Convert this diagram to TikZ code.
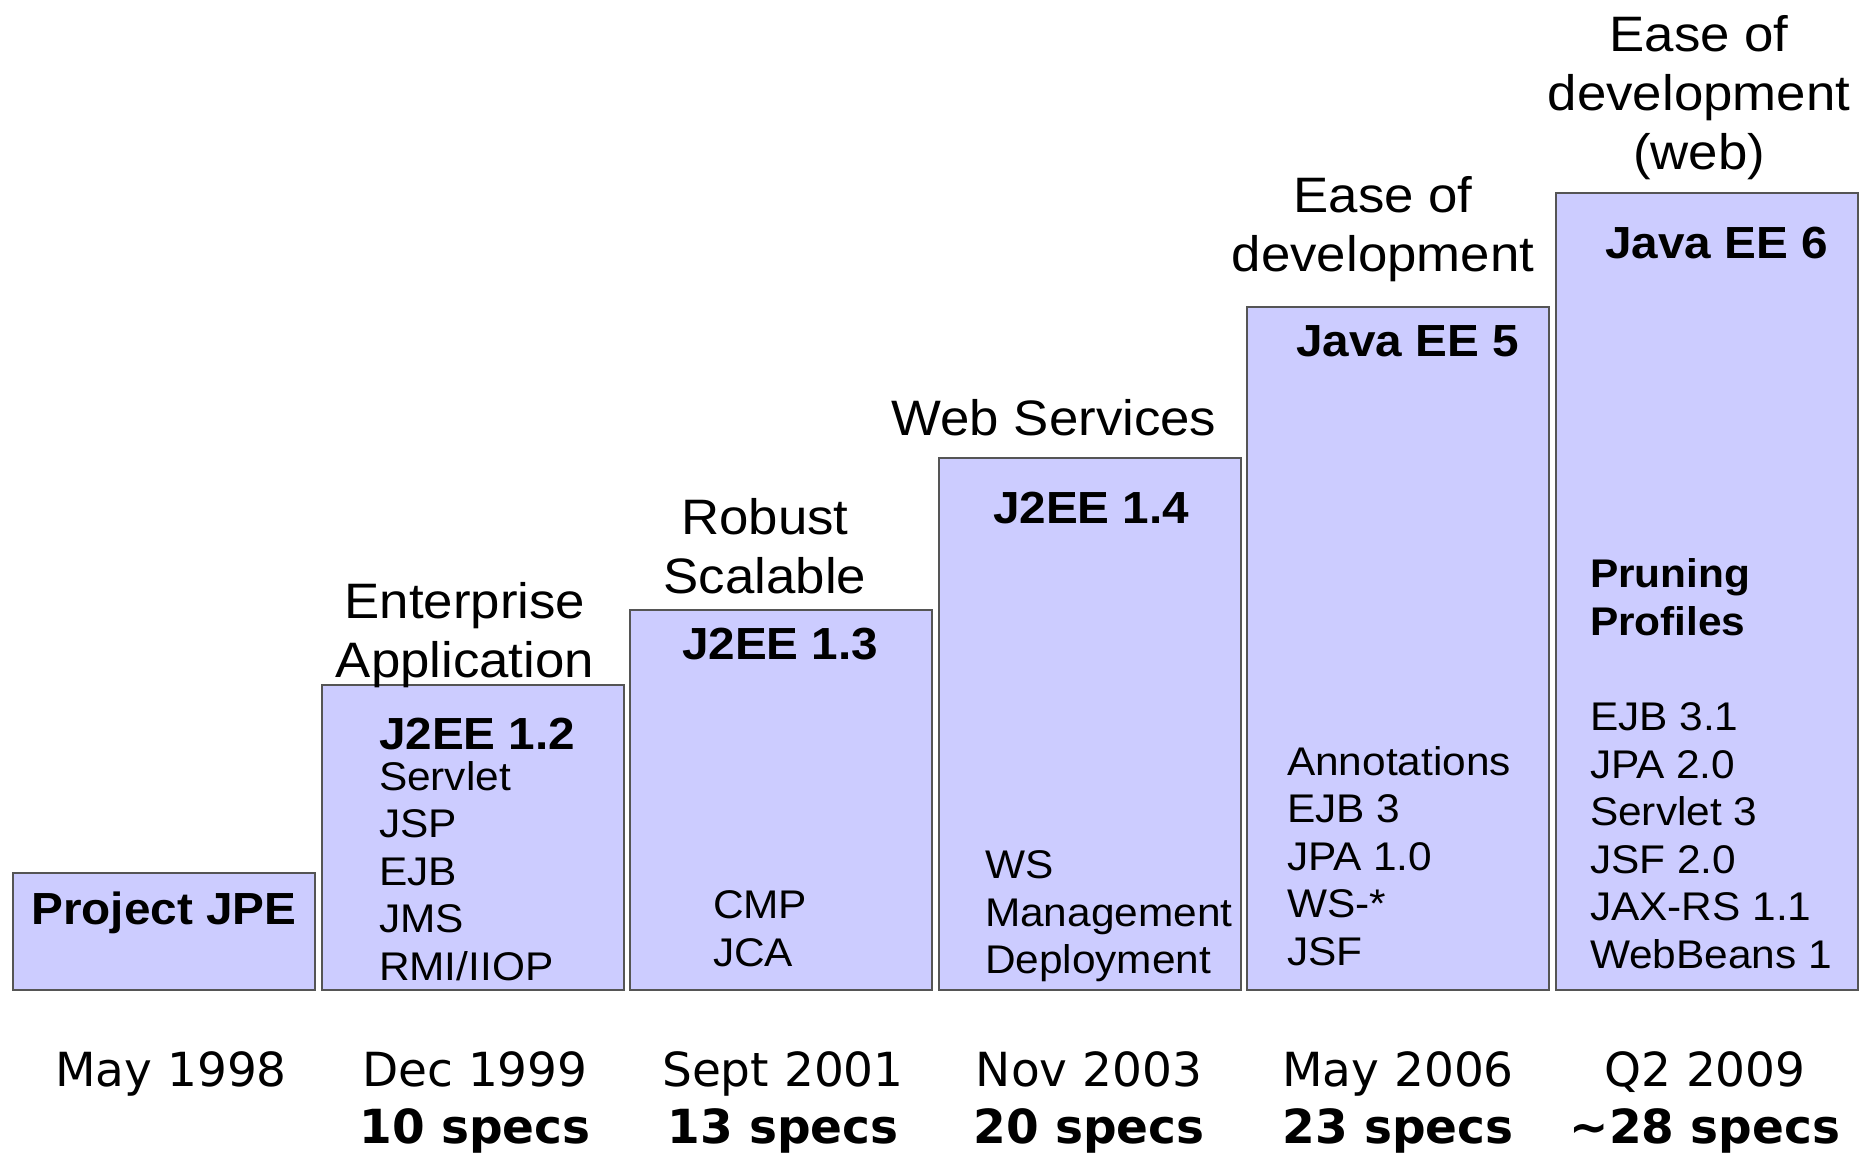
\documentclass[tikz,border=0pt]{standalone}
\usepackage{fontspec}
\setmainfont[FakeStretch=1.06]{Liberation Sans}
\newfontfamily\datefont{DejaVu Sans}

\definecolor{boxfill}{HTML}{CCCCFF}
\definecolor{boxline}{HTML}{555555}

\begin{document}
\begin{tikzpicture}[
  x=0.5pt, y=-0.5pt,
  every node/.style={inner sep=0pt, outer sep=0pt},
  relbox/.style={draw=boxline, fill=boxfill, line width=1pt},
  toplabel/.style={align=center, anchor=north, font=\fontsize{24.9}{29.5}\selectfont},
  release/.style={anchor=north west, font=\fontsize{22.5}{26}\selectfont\bfseries},
  speclist/.style={align=left, anchor=north west, font=\fontsize{20}{23.75}\selectfont},
  datelabel/.style={align=center, anchor=north, font=\datefont\fontsize{23.5}{28.5}\selectfont}
]
\useasboundingbox (0,0) rectangle (1871,1152);

% release boxes
\draw[relbox] (13,873) rectangle (315,990);
\draw[relbox] (322,685) rectangle (624,990);
\draw[relbox] (630,610) rectangle (932,990);
\draw[relbox] (939,458) rectangle (1241,990);
\draw[relbox] (1247,307) rectangle (1549,990);
\draw[relbox] (1556,193) rectangle (1858,990);

% themes
\node[toplabel] (entapp) at (465,582) {Enterprise\\Application};
\node[toplabel] (robust) at (765,498) {Robust\\Scalable};
\node[toplabel] (websvc) at (1054,399) {Web Services};
\node[toplabel] (easedev) at (1383,176) {Ease of\\development};
\node[toplabel] (easeweb) at (1699,15) {Ease of\\development\\(web)};

% releases and their specs
\node[release, anchor=north] (jpe) at (164,892) {Project JPE};
\node[release] (j12) at (379,718) {J2EE 1.2};
\node[speclist] (s12) at (379,761) {Servlet\\JSP\\EJB\\JMS\\RMI/IIOP};
\node[release] (j13) at (682,628) {J2EE 1.3};
\node[speclist] (s13) at (713,891) {CMP\\JCA};
\node[release] (j14) at (993,492) {J2EE 1.4};
\node[speclist] (s14) at (985,851) {WS\\Management\\Deployment};
\node[release] (ee5) at (1296,326) {Java EE 5};
\node[speclist] (s5) at (1287,746) {Annotations\\EJB 3\\JPA 1.0\\WS-*\\JSF};
\node[release] (ee6) at (1605,227) {Java EE 6};
\node[speclist, font=\fontsize{20}{23.75}\selectfont\bfseries] (prune) at (1590,559) {Pruning\\Profiles};
\node[speclist] (s6) at (1590,703) {EJB 3.1\\JPA 2.0\\Servlet 3\\JSF 2.0\\JAX-RS 1.1\\WebBeans 1};

% dates
\node[datelabel] (d98) at (171,1052) {May 1998};
\node[datelabel] (d99) at (475,1052) {Dec 1999\\\textbf{10 specs}};
\node[datelabel] (d01) at (783,1052) {Sept 2001\\\textbf{13 specs}};
\node[datelabel] (d03) at (1089,1052) {Nov 2003\\\textbf{20 specs}};
\node[datelabel] (d06) at (1398,1052) {May 2006\\\textbf{23 specs}};
\node[datelabel] (d09) at (1705,1052) {Q2 2009\\\textbf{\textasciitilde28 specs}};
\end{tikzpicture}
\end{document}
